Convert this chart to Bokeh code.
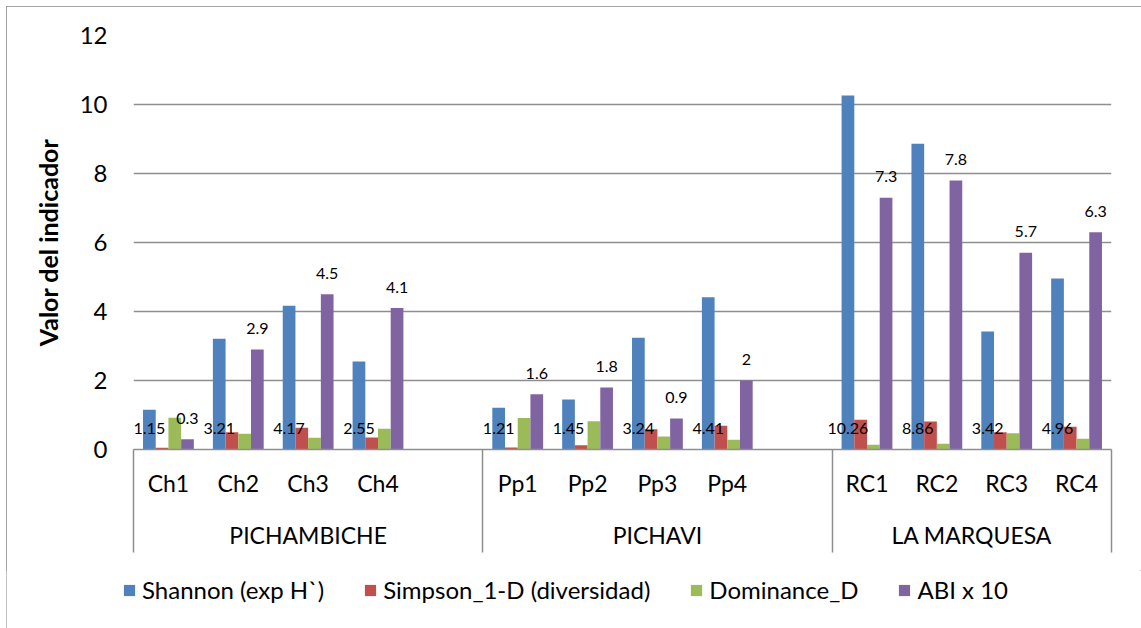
from bokeh.plotting import figure
from bokeh.layouts import column
from bokeh.models import (Range1d, FixedTicker, ColumnDataSource, Legend, LegendItem,
                          LinearAxis)
from bokeh.core.properties import value
from bokeh.embed import file_html
from bokeh.resources import INLINE

# ---------------- data ----------------
groups = ["PICHAMBICHE", "PICHAVI", "LA MARQUESA"]
sites = [["Ch1", "Ch2", "Ch3", "Ch4"],
         ["Pp1", "Pp2", "Pp3", "Pp4"],
         ["RC1", "RC2", "RC3", "RC4"]]
shannon = [1.15, 3.21, 4.17, 2.55, 1.21, 1.45, 3.24, 4.41, 10.26, 8.86, 3.42, 4.96]
simpson = [0.05, 0.50, 0.63, 0.35, 0.06, 0.12, 0.59, 0.69, 0.86, 0.81, 0.50, 0.66]
dominance = [0.92, 0.46, 0.34, 0.60, 0.91, 0.82, 0.38, 0.28, 0.14, 0.17, 0.47, 0.31]
abi10 = [0.3, 2.9, 4.5, 4.1, 1.6, 1.8, 0.9, 2.0, 7.3, 7.8, 5.7, 6.3]
series_names = ["Shannon (exp H`)", "Simpson_1-D (diversidad)", "Dominance_D", "ABI x 10"]
colors = ["#4F81BD", "#C0504D", "#9BBB59", "#8064A2"]
y_ticks = [0, 2, 4, 6, 8, 10, 12]

FONT = "Lato"
GRID = "#8E8E8E"
EDGE = "#868686"

# ---------------- slot layout (Excel: 4 sites + 1 blank slot per group, last group without blank) ----
slot_centers = []
group_bounds = [0.0]
group_centers = []
s = 0
for gi, g in enumerate(groups):
    start = s
    for site in sites[gi]:
        slot_centers.append(s + 0.5)
        s += 1
    if gi < len(groups) - 1:
        s += 1
    group_bounds.append(float(s))
    group_centers.append((start + s) / 2.0)
n_slots = s
site_labels = [x for grp in sites for x in grp]

bar_w = 1.0 / 5.5
series = [shannon, simpson, dominance, abi10]

# ---------------- main figure ----------------
OFF = 6                      # outer chart border inset
W = 1141 - OFF
LEG_TOP = 570                # window y where the legend strip begins
H1 = LEG_TOP - OFF
H2 = 628 - LEG_TOP
p = figure(width=W, height=H1, output_backend="svg", toolbar_location=None,
           x_range=Range1d(0, n_slots), y_range=Range1d(0, 12),
           min_border_left=133 - OFF, min_border_right=30,
           min_border_top=35 - OFF, min_border_bottom=LEG_TOP - 449)
p.styles = {"box-shadow": f"inset 1px 1px 0 {EDGE}, inset -1px 0 0 {EDGE}"}
p.outline_line_color = None
p.background_fill_color = "white"
p.border_fill_color = "white"

# y axis
p.yaxis.ticker = FixedTicker(ticks=y_ticks)
p.yaxis.axis_line_color = None
p.yaxis.major_tick_line_color = None
p.yaxis.minor_tick_line_color = None
p.yaxis.major_tick_out = 0
p.yaxis.major_tick_in = 0
p.yaxis.major_label_standoff = 26
p.yaxis.major_label_text_font = FONT
p.yaxis.major_label_text_font_size = "24px"
p.yaxis.major_label_text_color = "black"
p.yaxis.axis_label = "Valor del indicador"
p.yaxis.axis_label_text_font = FONT
p.yaxis.axis_label_text_font_size = "25px"
p.yaxis.axis_label_text_font_style = "bold"
p.yaxis.axis_label_text_color = "black"
p.yaxis.axis_label_standoff = 14

p.xgrid.visible = False
p.ygrid.ticker = FixedTicker(ticks=y_ticks)
p.ygrid.grid_line_color = GRID
p.ygrid.grid_line_width = 1.5

# x axis, level 1: site labels, group separators as long minor ticks
SEP = 103
xa = p.xaxis[0]
xa.ticker = FixedTicker(ticks=slot_centers, minor_ticks=group_bounds)
xa.major_label_overrides = {c: lab for c, lab in zip(slot_centers, site_labels)}
xa.axis_line_color = GRID
xa.axis_line_width = 1.5
xa.major_tick_line_color = None
xa.major_tick_out = 0
xa.major_tick_in = 0
xa.minor_tick_line_color = GRID
xa.minor_tick_line_width = 1.5
xa.minor_tick_out = SEP
xa.minor_tick_in = 0
xa.major_label_standoff = 19 - SEP
xa.major_label_text_font = FONT
xa.major_label_text_font_size = "23px"
xa.major_label_text_color = "black"

# x axis, level 2: group labels
xg = LinearAxis(ticker=FixedTicker(ticks=group_centers, minor_ticks=[]),
                major_label_overrides={c: g for c, g in zip(group_centers, groups)})
xg.axis_line_color = None
xg.major_tick_line_color = None
xg.minor_tick_line_color = None
xg.major_tick_out = 0
xg.major_tick_in = 0
xg.major_label_standoff = 21
xg.major_label_text_font = FONT
xg.major_label_text_font_size = "23px"
xg.major_label_text_color = "black"
p.add_layout(xg, "below")

# bars
for k, (vals, col) in enumerate(zip(series, colors)):
    xs = [c + (k - 1.5) * bar_w for c in slot_centers]
    src = ColumnDataSource(dict(x=xs, top=vals))
    p.vbar(x="x", top="top", width=bar_w, bottom=0, source=src,
           fill_color=col, line_color=None)

# data labels: Shannon at inside base, ABI above bars
sh_src = ColumnDataSource(dict(x=[c - 1.5 * bar_w for c in slot_centers],
                               y=[0] * len(shannon),
                               t=[f"{v:g}" for v in shannon]))
p.text(x="x", y="y", text="t", source=sh_src, text_font=value(FONT),
       text_font_size="16px", text_align="center", text_baseline="middle",
       y_offset=-21, text_color="black")
abi_src = ColumnDataSource(dict(x=[c + 1.5 * bar_w for c in slot_centers],
                                y=abi10, t=[f"{v:g}" for v in abi10]))
p.text(x="x", y="y", text="t", source=abi_src, text_font=value(FONT),
       text_font_size="16px", text_align="center", text_baseline="middle",
       y_offset=-21, text_color="black")

# ---------------- legend strip ----------------
p2 = figure(width=W, height=H2, output_backend="svg", toolbar_location=None,
            x_range=Range1d(0, 1), y_range=Range1d(0, 1),
            x_axis_location=None, y_axis_location=None,
            min_border_left=0, min_border_right=0, min_border_top=0, min_border_bottom=0)
p2.frame_align = False
p2.styles = {"box-shadow": f"inset 1px 0 0 {EDGE}, inset -1px 0 0 {EDGE}"}
p2.outline_line_color = None
p2.xgrid.visible = False
p2.ygrid.visible = False
p2.background_fill_color = "white"
p2.border_fill_color = "white"

proxies = []
for col in colors:
    proxies.append(p2.quad(left=[0], right=[0], top=[0], bottom=[0],
                           fill_color=col, line_color=None))
legend = Legend(items=[LegendItem(label=n, renderers=[r]) for n, r in zip(series_names, proxies)],
                orientation="horizontal", location=(122 - OFF, 24))
legend.label_text_font = FONT
legend.label_text_font_size = "24px"
legend.label_text_color = "black"
legend.glyph_width = 14
legend.glyph_height = 14
legend.label_standoff = 6
legend.spacing = 39
legend.padding = 0
legend.margin = 0
legend.border_line_color = None
legend.background_fill_alpha = 0
p2.add_layout(legend)

layout = column(p, p2, spacing=0)
layout.margin = (OFF, 0, 0, OFF)

open("out.html", "w").write(file_html(layout, INLINE))
